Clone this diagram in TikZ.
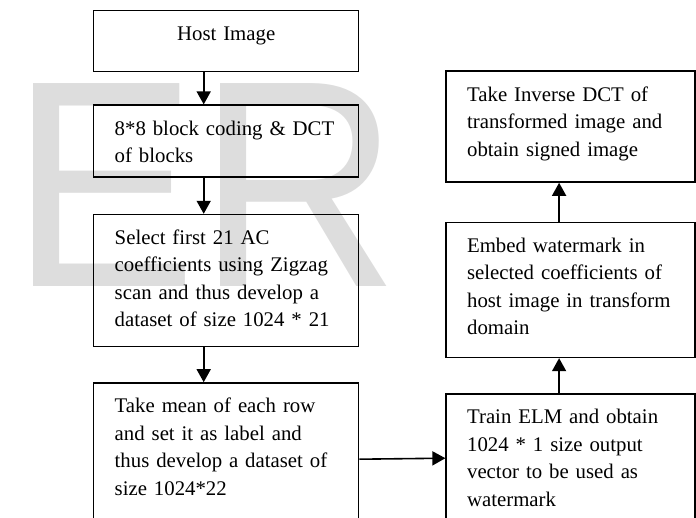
\documentclass[tikz,border=0pt]{standalone}
\usepackage{xcolor}
\usepackage{fontspec}
\setmainfont{Liberation Serif}
\newfontfamily\wmfont{Liberation Sans}
\usepackage{tikz}
\usetikzlibrary{arrows.meta, positioning}

\definecolor{wmgray}{RGB}{221,221,221}
\hyphenpenalty=10000
\exhyphenpenalty=10000

\begin{document}
\begin{tikzpicture}[x=1pt, y=-1pt]
            \tikzstyle{stepbox} = [draw, rectangle, line width=1.4pt, inner xsep=21pt, inner ysep=14pt, text height=16pt, align=left, font=\fontsize{20.8}{27.5}\selectfont]
            \tikzstyle{leftbox} = [stepbox, text width=223pt]
            \tikzstyle{rightbox} = [stepbox, text width=207pt]
            \tikzstyle{flow} = [line width=1.6pt, -{Triangle[length=13pt, width=14pt]}]

            \useasboundingbox (0,0) rectangle (696,518);
            \clip (0,0) rectangle (696,518);

            % watermark
            \node[anchor=base west, inner sep=0pt, xscale=0.95, text=wmgray, font=\wmfont\fontsize{295}{295}\selectfont] (wm) at (10,287) {ER};

            \node[leftbox, align=center, text depth=17pt, anchor=north west] (host) at (93,10) {Host Image};
            \node[leftbox, text depth=28pt, below=32pt of host] (dct) {8*8 block coding \& DCT\\of blocks};
            \node[leftbox, text depth=88pt, below=36pt of dct] (zigzag) {Select first 21 AC\\coefficients using Zigzag\\scan and thus develop a\\dataset of size 1024 * 21};
            \node[leftbox, text depth=200pt, below=35pt of zigzag] (mean) {Take mean of each row\\and set it as label and\\thus develop a dataset of\\size 1024*22};

            \node[rightbox, text depth=200pt, below right=11pt and 86pt of mean.north east] (train) {Train ELM and obtain\\1024 * 1 size output\\vector to be used as\\watermark};
            \node[rightbox, text depth=91pt, above=35pt of train] (embed) {Embed watermark in\\selected coefficients of\\host image in transform\\domain};
            \node[rightbox, text depth=67pt, above=39pt of embed] (idct) {Take Inverse DCT of\\transformed image and\\obtain signed image};

            \draw[flow] ([xshift=-22.5pt]host.south) -- ([xshift=-22.5pt]dct.north);
            \draw[flow] ([xshift=-22.5pt]dct.south) -- ([xshift=-22.5pt]zigzag.north);
            \draw[flow] ([xshift=-22.5pt]zigzag.south) -- ([xshift=-22.5pt]mean.north);
            \draw[flow] ([yshift=-77pt]mean.north east) -- ([yshift=-65pt]train.north west);
            \draw[flow] ([xshift=-11.5pt]train.north) -- ([xshift=-11.5pt]embed.south);
            \draw[flow] ([xshift=-11.5pt]embed.north) -- ([xshift=-11.5pt]idct.south);
        \end{tikzpicture}
\end{document}
